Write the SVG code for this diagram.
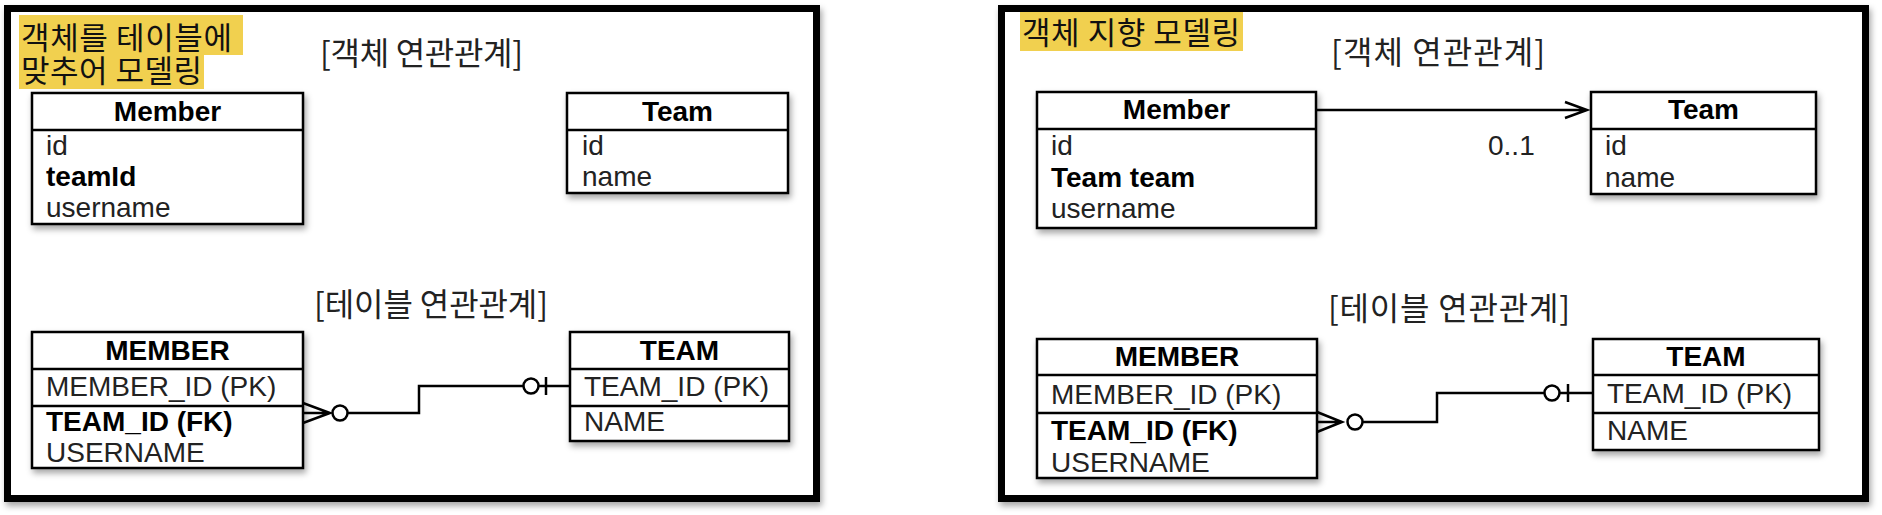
<svg xmlns="http://www.w3.org/2000/svg" width="1882" height="515" viewBox="0 0 1882 515">
<defs>
<filter id="sh" x="-10%" y="-10%" width="130%" height="140%">
<feDropShadow dx="2" dy="4" stdDeviation="3" flood-color="#000" flood-opacity="0.35"/>
</filter>
<style>
.frame{fill:#fff;stroke:#000;stroke-width:7}
.box{fill:#fff;stroke:#000;stroke-width:2.5}
.div{stroke:#000;stroke-width:2.5}
.hl{fill:#F1D04F}
.ko{font-family:"Noto Sans CJK KR","Noto Sans",sans-serif;font-size:31px;fill:#111}
.ttl{font-family:"Noto Sans CJK KR","Noto Sans",sans-serif;font-size:32px;fill:#222}
.hd{font-family:"Liberation Sans",Arial,sans-serif;font-size:28px;font-weight:bold;fill:#000;text-anchor:middle}
.at{font-family:"Liberation Sans",Arial,sans-serif;font-size:28px;fill:#222}
.atb{font-family:"Liberation Sans",Arial,sans-serif;font-size:28px;font-weight:bold;fill:#000}
.ln{fill:none;stroke:#000;stroke-width:2.5}
.cir{fill:#fff;stroke:#000;stroke-width:2.5}
</style>
</defs>
<rect width="1882" height="515" fill="#fff"/>

<g id="left-panel">
<rect class="frame" x="7.5" y="8.5" width="809" height="490" filter="url(#sh)"/>
<rect class="hl" x="19" y="15" width="224" height="40"/>
<rect class="hl" x="19" y="54" width="185" height="35"/>
<text class="ko"><tspan x="21" y="49" textLength="211" lengthAdjust="spacing">객체를 테이블에</tspan><tspan x="21" y="82" textLength="181" lengthAdjust="spacing">맞추어 모델링</tspan></text>
<text class="ttl" x="320" y="65" textLength="203" lengthAdjust="spacing">[객체 연관관계]</text>
<text class="ttl" x="314" y="316" textLength="234" lengthAdjust="spacing">[테이블 연관관계]</text>
</g>

<g id="right-panel">
<rect class="frame" x="1001.5" y="8.5" width="864" height="490" filter="url(#sh)"/>
<rect class="hl" x="1020" y="12" width="223" height="39"/>
<text class="ko" x="1022" y="44" textLength="218" lengthAdjust="spacing">객체 지향 모델링</text>
<text class="ttl" x="1331" y="64" textLength="214" lengthAdjust="spacing">[객체 연관관계]</text>
<text class="ttl" x="1328" y="320" textLength="242" lengthAdjust="spacing">[테이블 연관관계]</text>
</g>

<g id="L-Member">
<rect class="box" x="32" y="93" width="271" height="131" filter="url(#sh)"/>
<line class="div" x1="32" y1="130" x2="303" y2="130"/>
<text class="hd" x="167.5" y="121">Member</text>
<text class="at" x="46" y="155">id</text>
<text class="atb" x="46" y="186">teamId</text>
<text class="at" x="46" y="217">username</text>
</g>

<g id="L-Team">
<rect class="box" x="567" y="93" width="221" height="100" filter="url(#sh)"/>
<line class="div" x1="567" y1="130" x2="788" y2="130"/>
<text class="hd" x="677.5" y="121">Team</text>
<text class="at" x="582" y="155">id</text>
<text class="at" x="582" y="186">name</text>
</g>

<g id="L-MEMBER">
<rect class="box" x="32" y="332" width="271" height="136" filter="url(#sh)"/>
<line class="div" x1="32" y1="369" x2="303" y2="369"/>
<line class="div" x1="32" y1="406" x2="303" y2="406"/>
<text class="hd" x="167.5" y="360">MEMBER</text>
<text class="at" x="46" y="396">MEMBER_ID (PK)</text>
<text class="atb" x="46" y="431">TEAM_ID (FK)</text>
<text class="at" x="46" y="462">USERNAME</text>
</g>

<g id="L-TEAM">
<rect class="box" x="570" y="332" width="219" height="109" filter="url(#sh)"/>
<line class="div" x1="570" y1="369" x2="789" y2="369"/>
<line class="div" x1="570" y1="406" x2="789" y2="406"/>
<text class="hd" x="679.5" y="360">TEAM</text>
<text class="at" x="584" y="396">TEAM_ID (PK)</text>
<text class="at" x="584" y="431">NAME</text>
</g>

<g id="R-Member">
<rect class="box" x="1037" y="92" width="279" height="136" filter="url(#sh)"/>
<line class="div" x1="1037" y1="129" x2="1316" y2="129"/>
<text class="hd" x="1176.5" y="119">Member</text>
<text class="at" x="1051" y="155">id</text>
<text class="atb" x="1051" y="187">Team team</text>
<text class="at" x="1051" y="218">username</text>
</g>

<g id="R-Team">
<rect class="box" x="1591" y="92" width="225" height="102" filter="url(#sh)"/>
<line class="div" x1="1591" y1="129" x2="1816" y2="129"/>
<text class="hd" x="1703.5" y="119">Team</text>
<text class="at" x="1605" y="155">id</text>
<text class="at" x="1605" y="187">name</text>
</g>

<g id="R-MEMBER">
<rect class="box" x="1037" y="339" width="280" height="139" filter="url(#sh)"/>
<line class="div" x1="1037" y1="375" x2="1317" y2="375"/>
<line class="div" x1="1037" y1="413" x2="1317" y2="413"/>
<text class="hd" x="1177" y="366">MEMBER</text>
<text class="at" x="1051" y="404">MEMBER_ID (PK)</text>
<text class="atb" x="1051" y="440">TEAM_ID (FK)</text>
<text class="at" x="1051" y="472">USERNAME</text>
</g>

<g id="R-TEAM">
<rect class="box" x="1593" y="339" width="226" height="111" filter="url(#sh)"/>
<line class="div" x1="1593" y1="375" x2="1819" y2="375"/>
<line class="div" x1="1593" y1="413" x2="1819" y2="413"/>
<text class="hd" x="1706" y="366">TEAM</text>
<text class="at" x="1607" y="403">TEAM_ID (PK)</text>
<text class="at" x="1607" y="440">NAME</text>
</g>

<g id="connectors">
<path class="ln" d="M303 403 L330 413 L303 423 M303 413 H330"/>
<circle class="cir" cx="340" cy="413" r="7.5"/>
<path class="ln" d="M347.5 413 H419 V386 H523.5"/>
<circle class="cir" cx="531" cy="386" r="7.5"/>
<path class="ln" d="M538.5 386 H570 M546 377 V395"/>
<path class="ln" d="M1316 110 H1587 M1565 102 L1587 110 L1565 118"/>
<text class="at" x="1488" y="155">0..1</text>
<path class="ln" d="M1317 412 L1342 422 L1317 432 M1317 422 H1342"/>
<circle class="cir" cx="1355" cy="422" r="7.5"/>
<path class="ln" d="M1362.5 422 H1437 V393 H1544.5"/>
<circle class="cir" cx="1552" cy="393" r="7.5"/>
<path class="ln" d="M1559.5 393 H1593 M1568 384 V402"/>
</g>
</svg>
